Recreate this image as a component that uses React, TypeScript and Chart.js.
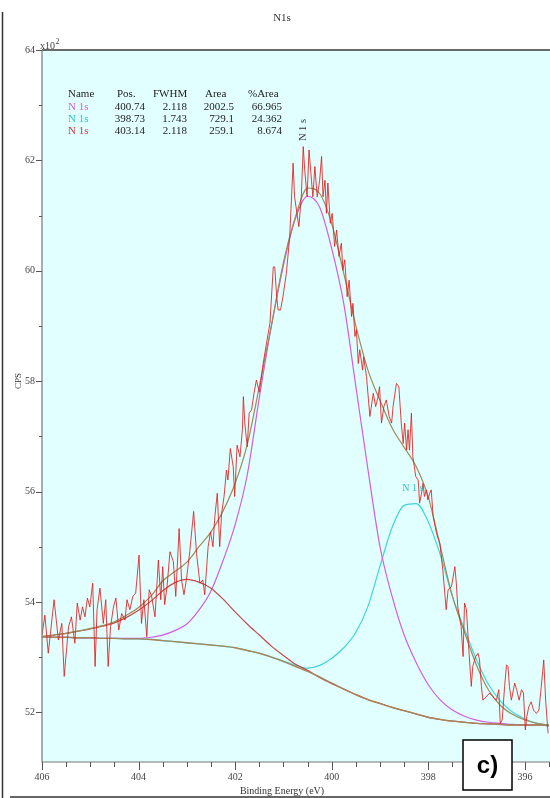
import React, { useEffect, useRef } from "react";
import { Chart, registerables } from "chart.js";
Chart.register(...registerables);

// Raw spectrum (binding energy eV, CPS x10^2)
const rawE = [
  406.0, 405.94, 405.87, 405.75, 405.66, 405.59, 405.54, 405.45, 405.39, 405.32, 405.27, 405.21, 405.16, 405.11, 405.06, 405.01,
  404.95, 404.9, 404.86, 404.8, 404.73, 404.68, 404.63, 404.58, 404.52, 404.47, 404.41, 404.35, 404.28, 404.24, 404.18, 404.12,
  404.06, 403.99, 403.94, 403.89, 403.83, 403.78, 403.73, 403.66, 403.59, 403.54, 403.5, 403.46, 403.41, 403.35, 403.28, 403.23,
  403.16, 403.11, 403.06, 403.01, 402.94, 402.86, 402.8, 402.73, 402.67, 402.63, 402.56, 402.51, 402.46, 402.42, 402.37, 402.32,
  402.28, 402.23, 402.18, 402.15, 402.1, 402.04, 402.01, 401.96, 401.9, 401.85, 401.83, 401.8, 401.75, 401.71, 401.66, 401.61,
  401.56, 401.5, 401.42, 401.35, 401.28, 401.21, 401.18, 401.14, 401.11, 401.06, 401.01, 400.94, 400.87, 400.8, 400.77, 400.72,
  400.68, 400.63, 400.59, 400.56, 400.51, 400.47, 400.42, 400.39, 400.35, 400.3, 400.25, 400.21, 400.18, 400.14, 400.11, 400.08,
  400.03, 399.99, 399.94, 399.9, 399.85, 399.8, 399.77, 399.73, 399.68, 399.64, 399.59, 399.56, 399.52, 399.49, 399.45, 399.42,
  399.36, 399.34, 399.28, 399.21, 399.14, 399.09, 399.04, 399.01, 398.97, 398.92, 398.87, 398.81, 398.76, 398.73, 398.66, 398.61,
  398.56, 398.52, 398.49, 398.45, 398.42, 398.39, 398.35, 398.32, 398.26, 398.21, 398.18, 398.14, 398.11, 398.08, 398.04, 398.01,
  397.97, 397.94, 397.9, 397.83, 397.76, 397.7, 397.63, 397.59, 397.52, 397.45, 397.42, 397.39, 397.32, 397.28, 397.25, 397.21,
  397.16, 397.11, 397.08, 397.02, 396.97, 396.94, 396.9, 396.87, 396.8, 396.73, 396.66, 396.59, 396.54, 396.51, 396.47, 396.42,
  396.38, 396.35, 396.32, 396.28, 396.21, 396.17, 396.12, 396.07, 396.03, 395.99, 395.96, 395.92, 395.87, 395.82, 395.76, 395.71,
  395.66, 395.61, 395.57, 395.52,
];
const rawCps = [
  53.4, 53.76, 53.07, 54.04, 53.31, 53.61, 52.65, 53.55, 53.73, 53.25, 53.98, 53.67, 53.91, 53.73, 54.07, 53.91,
  54.34, 52.83, 53.86, 54.25, 53.61, 54.04, 52.83, 53.55, 53.91, 54.07, 53.49, 53.79, 53.67, 54.04, 53.86, 54.1,
  54.16, 54.85, 53.61, 54.04, 53.37, 54.22, 54.1, 53.73, 54.76, 54.04, 54.64, 53.95, 54.28, 54.91, 54.73, 54.1,
  55.33, 54.4, 54.13, 54.4, 54.91, 55.64, 54.88, 54.34, 54.4, 54.13, 55.0, 55.27, 55.0, 55.55, 55.97, 55.0,
  55.61, 55.91, 56.39, 56.21, 56.78, 56.45, 55.91, 56.84, 56.63, 57.12, 57.72, 57.24, 56.81, 57.42, 57.48, 57.78,
  58.02, 57.8, 58.32, 58.69, 59.05, 60.07, 60.07, 59.53, 59.29, 59.29, 59.53, 59.95, 60.62, 61.95, 61.34, 61.04,
  60.8, 61.34, 62.25, 61.83, 61.34, 62.19, 61.64, 61.34, 61.89, 61.34, 61.64, 62.07, 61.34, 61.64, 61.04, 61.59,
  60.86, 61.04, 60.44, 60.74, 60.26, 60.5, 60.01, 60.2, 59.53, 59.83, 59.17, 59.41, 58.81, 58.93, 58.32, 58.57,
  58.2, 58.44, 58.08, 57.36, 57.78, 57.54, 57.72, 57.9, 57.24, 57.54, 57.66, 57.36, 57.24, 57.54, 57.96, 57.9,
  57.24, 56.87, 57.24, 56.75, 57.12, 56.75, 57.42, 56.63, 56.27, 56.21, 55.79, 55.97, 56.15, 55.91, 56.03, 55.85,
  55.97, 56.03, 55.55, 55.24, 55.06, 54.58, 53.86, 54.22, 54.28, 54.64, 54.34, 53.91, 53.55, 53.01, 53.98, 53.86,
  53.13, 52.47, 52.83, 53.01, 53.07, 52.95, 52.47, 52.22, 52.28, 52.35, 52.28, 52.22, 52.41, 51.8, 51.86, 52.47,
  52.86, 52.83, 52.47, 52.22, 52.53, 52.41, 52.22, 52.41, 52.35, 51.68, 51.92, 52.1, 52.19, 52.04, 51.98, 52.04,
  52.47, 52.95, 52.22, 51.62,
];

// Fit curves sampled on a common energy grid
const compE = [
  406, 405.75, 405.5, 405.25, 405, 404.75, 404.5, 404.25, 404, 403.75, 403.5, 403.25, 403, 402.75, 402.5, 402.25,
  402, 401.75, 401.5, 401.25, 401, 400.75, 400.5, 400.25, 400, 399.75, 399.5, 399.25, 399, 398.75, 398.5, 398.25,
  398, 397.75, 397.5, 397.25, 397, 396.75, 396.5, 396.25, 396, 395.75, 395.5,
];
const backgroundCps = [
  53.37, 53.36, 53.36, 53.35, 53.35, 53.34, 53.34, 53.33, 53.33, 53.32, 53.3, 53.28, 53.26, 53.24, 53.22, 53.2,
  53.17, 53.12, 53.07, 53.0, 52.92, 52.83, 52.74, 52.64, 52.53, 52.42, 52.32, 52.23, 52.16, 52.09, 52.03, 51.97,
  51.91, 51.87, 51.84, 51.82, 51.8, 51.79, 51.78, 51.77, 51.77, 51.77, 51.76,
];
const envelopeCps = [
  53.37, 53.4, 53.43, 53.47, 53.52, 53.57, 53.64, 53.76, 53.9, 54.1, 54.38, 54.55, 54.72, 55.0, 55.27, 55.65,
  56.15, 56.85, 57.9, 59.0, 60.15, 60.98, 61.5, 61.4, 60.85, 59.95, 59.0, 58.2, 57.65, 57.15, 56.8, 56.45,
  55.9, 55.0, 54.1, 53.45, 52.85, 52.4, 52.12, 51.96, 51.86, 51.8, 51.77,
];
const peak1Cps = [
  53.37, 53.36, 53.36, 53.35, 53.35, 53.34, 53.34, 53.34, 53.34, 53.36, 53.4, 53.48, 53.6, 53.85, 54.2, 54.75,
  55.4, 56.3, 57.7, 59.0, 60.1, 60.95, 61.35, 61.15, 60.4, 59.4, 57.9, 56.4, 55.0, 54.1, 53.4, 52.9,
  52.5, 52.22, 52.04, 51.93, 51.86, 51.82, 51.8, 51.78, 51.77, 51.77, 51.76,
];
const peak2Cps = [
  53.37, 53.36, 53.36, 53.35, 53.35, 53.34, 53.34, 53.33, 53.33, 53.32, 53.3, 53.28, 53.26, 53.24, 53.22, 53.2,
  53.17, 53.12, 53.07, 53.0, 52.93, 52.85, 52.8, 52.85, 52.98, 53.17, 53.45, 53.92, 54.65, 55.35, 55.75, 55.78,
  55.45, 54.85, 54.1, 53.5, 52.95, 52.5, 52.2, 52.0, 51.88, 51.8, 51.77,
];
const peak3Cps = [
  53.37, 53.4, 53.43, 53.47, 53.51, 53.56, 53.62, 53.72, 53.85, 54.01, 54.2, 54.35, 54.41, 54.36, 54.25, 54.05,
  53.82, 53.6, 53.4, 53.2, 53.03, 52.87, 52.76, 52.63, 52.52, 52.42, 52.32, 52.23, 52.16, 52.09, 52.03, 51.97,
  51.91, 51.87, 51.84, 51.82, 51.8, 51.79, 51.78, 51.77, 51.77, 51.77, 51.76,
];

const xTickValues = [395.5, 396, 396.5, 397, 397.5, 398, 398.5, 399, 399.5, 400, 400.5, 401, 401.5, 402, 402.5, 403, 403.5, 404, 404.5, 405, 405.5, 406];
const yTickValues = [52, 53, 54, 55, 56, 57, 58, 59, 60, 61, 62, 63, 64];

const tableHeader = ["Name", "Pos.", "FWHM", "Area", "%Area"];
const tableNames = ["N 1s", "N 1s", "N 1s"];
const tablePos = ["400.74", "398.73", "403.14"];
const tableFwhm = ["2.118", "1.743", "2.118"];
const tableArea = ["2002.5", "729.1", "259.1"];
const tablePct = ["66.965", "24.362", "8.674"];

const C_RAW = "rgba(222,30,30,0.85)";
const C_ENV = "#9c8c5c";
const C_BG = "#a8845a";
const C_P1 = "#d05ee0";
const C_P2 = "#3fd6d6";
const C_P3 = "#c84848";
const rowColors = [C_P1, "#2fc4c4", "#d03a3a"];

const SERIF = "'Liberation Serif', 'DejaVu Serif', serif";

function pts(xs: number[], ys: number[]) {
  return xs.map((x, i) => ({ x, y: ys[i] }));
}

const decorPlugin = {
  id: "decor",
  beforeDraw(chart: any) {
    const { ctx, chartArea } = chart;
    ctx.save();
    ctx.fillStyle = "#ffffff";
    ctx.fillRect(0, 0, chart.width, chart.height);
    ctx.fillStyle = "#e2ffff";
    ctx.fillRect(chartArea.left, chartArea.top, chartArea.right - chartArea.left, chartArea.bottom - chartArea.top);
    ctx.restore();
  },
  afterDraw(chart: any) {
    const { ctx, chartArea } = chart;
    const xs = chart.scales.x;
    const ys = chart.scales.y;
    ctx.save();
    // plot borders
    ctx.strokeStyle = "#6a6a6a";
    ctx.lineWidth = 2;
    ctx.beginPath();
    ctx.moveTo(chartArea.left, chartArea.top);
    ctx.lineTo(chartArea.right, chartArea.top);
    ctx.stroke();
    ctx.lineWidth = 1.2;
    ctx.strokeStyle = "#777";
    ctx.beginPath();
    ctx.moveTo(chartArea.left, chartArea.top);
    ctx.lineTo(chartArea.left, chartArea.bottom);
    ctx.lineTo(chartArea.right, chartArea.bottom);
    ctx.stroke();
    // ticks
    ctx.lineWidth = 1;
    ctx.strokeStyle = "#555";
    yTickValues.forEach((v) => {
      const y = Math.round(ys.getPixelForValue(v)) + 0.5;
      const len = v % 2 === 0 ? 6 : 3;
      ctx.beginPath();
      ctx.moveTo(chartArea.left - len, y);
      ctx.lineTo(chartArea.left, y);
      ctx.stroke();
    });
    xTickValues.forEach((v) => {
      const x = Math.round(xs.getPixelForValue(v)) + 0.5;
      const len = v % 2 === 0 ? 8 : 5;
      ctx.beginPath();
      ctx.moveTo(x, chartArea.bottom);
      ctx.lineTo(x, chartArea.bottom + len);
      ctx.stroke();
    });
    // image frame lines
    ctx.strokeStyle = "#333";
    ctx.lineWidth = 1.5;
    ctx.beginPath();
    ctx.moveTo(2.5, 12);
    ctx.lineTo(2.5, chart.height);
    ctx.stroke();
    ctx.beginPath();
    ctx.moveTo(10, 797);
    ctx.lineTo(chart.width, 797);
    ctx.stroke();

    // texts
    ctx.fillStyle = "#333";
    ctx.font = `11px ${SERIF}`;
    ctx.textAlign = "center";
    ctx.textBaseline = "middle";
    ctx.fillText("N1s", 282, 18);
    ctx.font = `10px ${SERIF}`;
    ctx.fillText("Binding Energy (eV)", 282, 791);
    ctx.save();
    ctx.translate(19, 381);
    ctx.rotate(-Math.PI / 2);
    ctx.font = `9px ${SERIF}`;
    ctx.fillText("CPS", 0, 0);
    ctx.restore();
    ctx.textAlign = "left";
    ctx.textBaseline = "alphabetic";
    ctx.font = `10px ${SERIF}`;
    ctx.fillStyle = "#444";
    ctx.fillText("x10", 40, 49);
    const w = ctx.measureText("x10").width;
    ctx.font = `8px ${SERIF}`;
    ctx.fillText("2", 40 + w + 0.5, 44);

    // parameter table
    ctx.font = `11px ${SERIF}`;
    ctx.textBaseline = "middle";
    const headX = [68, 117, 153, 205, 248];
    ctx.fillStyle = "#222";
    tableHeader.forEach((h, i) => {
      ctx.textAlign = "left";
      ctx.fillText(h, headX[i], 94);
    });
    const rowY = [107.5, 119.5, 131.5];
    const rightX = [145, 187, 234, 282];
    tableNames.forEach((n, r) => {
      ctx.textAlign = "left";
      ctx.fillStyle = rowColors[r];
      ctx.fillText(n, 68, rowY[r]);
      ctx.fillStyle = "#222";
      ctx.textAlign = "right";
      [tablePos[r], tableFwhm[r], tableArea[r], tablePct[r]].forEach((t, k) => {
        ctx.fillText(t, rightX[k], rowY[r]);
      });
    });

    // peak labels
    ctx.save();
    ctx.translate(xs.getPixelForValue(400.6), ys.getPixelForValue(62.55));
    ctx.rotate(-Math.PI / 2);
    ctx.textAlign = "center";
    ctx.fillStyle = "#333";
    ctx.font = `10.5px ${SERIF}`;
    ctx.fillText("N 1 s", 0, 0);
    ctx.restore();
    ctx.textAlign = "center";
    ctx.fillStyle = "#2fc4c4";
    ctx.font = `10px ${SERIF}`;
    ctx.fillText("N 1 s", xs.getPixelForValue(398.32), ys.getPixelForValue(56.05));

    // panel tag
    ctx.fillStyle = "#ffffff";
    ctx.fillRect(463, 740, 49, 50);
    ctx.strokeStyle = "#000";
    ctx.lineWidth = 1.5;
    ctx.strokeRect(463, 740, 49, 50);
    ctx.fillStyle = "#000";
    ctx.font = "bold 24px 'Liberation Sans', Arial, sans-serif";
    ctx.textAlign = "center";
    ctx.textBaseline = "middle";
    ctx.fillText("c)", 487.5, 766);
    ctx.restore();
  },
};

export default function App() {
  const ref = useRef<HTMLCanvasElement | null>(null);
  useEffect(() => {
    if (!ref.current) return;
    const line = (data: any, color: string, width: number, smooth: boolean) => ({
      data,
      borderColor: color,
      borderWidth: width,
      pointRadius: 0,
      fill: false,
      tension: smooth ? 0.4 : 0,
      cubicInterpolationMode: smooth ? "monotone" : "default",
    });
    const chart = new Chart(ref.current, {
      type: "line",
      data: {
        datasets: [
          line(pts(rawE, rawCps), C_RAW, 1, false),
          line(pts(compE, envelopeCps), C_ENV, 1.2, true),
          line(pts(compE, backgroundCps), C_BG, 1.4, true),
          line(pts(compE, peak3Cps), C_P3, 1.2, true),
          line(pts(compE, peak1Cps), C_P1, 1.2, true),
          line(pts(compE, peak2Cps), C_P2, 1.2, true),
        ] as any,
      },
      options: {
        animation: false,
        responsive: true,
        maintainAspectRatio: false,
        layout: { padding: { top: 50, left: 0, right: 0, bottom: 0 } },
        plugins: { legend: { display: false }, tooltip: { enabled: false }, title: { display: false } },
        scales: {
          x: {
            type: "linear",
            reverse: true,
            min: 395.48,
            max: 406,
            afterBuildTicks: (s: any) => {
              s.ticks = xTickValues.map((v) => ({ value: v }));
            },
            afterFit: (s: any) => {
              s.height = 36;
            },
            grid: { display: false, drawTicks: false },
            border: { display: false },
            ticks: {
              autoSkip: false,
              maxRotation: 0,
              padding: 9,
              color: "#444",
              font: { family: SERIF, size: 10 },
              callback: (v: any) => (Number(v) % 2 === 0 ? String(v) : ""),
            },
          },
          y: {
            min: 51.1,
            max: 64,
            afterBuildTicks: (s: any) => {
              s.ticks = yTickValues.map((v) => ({ value: v }));
            },
            afterFit: (s: any) => {
              s.width = 42;
            },
            grid: { display: false, drawTicks: false },
            border: { display: false },
            ticks: {
              autoSkip: false,
              padding: 7,
              color: "#444",
              font: { family: SERIF, size: 10 },
              callback: (v: any) => (Number(v) % 2 === 0 ? String(v) : ""),
            },
          },
        },
      } as any,
      plugins: [decorPlugin],
    });
    return () => chart.destroy();
  }, []);
  return (
    <div style={{ position: "absolute", left: 0, top: 0, width: 550, height: 798, overflow: "hidden" }}>
      <canvas ref={ref} />
    </div>
  );
}
